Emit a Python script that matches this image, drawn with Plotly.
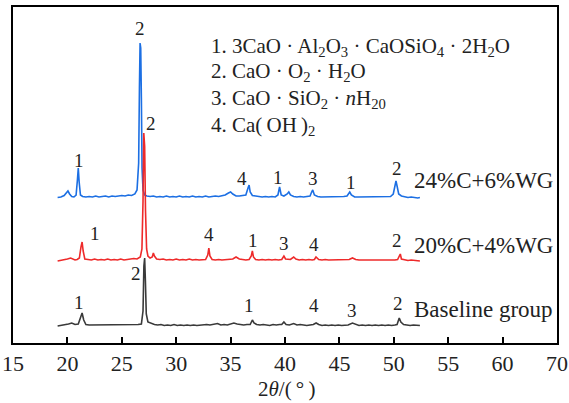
import plotly.graph_objects as go

# ---------------- data ----------------
tick_vals = [15, 20, 25, 30, 35, 40, 45, 50, 55, 60, 65]
tick_text = ["15", "20", "25", "30", "35", "40", "45", "50", "55", "60", "70"]

series_names = ["Baseline group", "24%C+6%WG", "20%C+4%WG"]
series_offsets = [17, 145, 82]

blue_x = [19.1, 19.4, 19.7, 19.9, 20.05, 20.2, 20.4, 20.6, 20.8, 20.92,
          21.0, 21.08, 21.2, 21.4, 21.7, 22.0, 22.3, 22.6, 22.9, 23.2,
          23.5, 23.8, 24.1, 24.4, 24.7, 25.0, 25.3, 25.6, 25.9, 26.2,
          26.4, 26.55, 26.62, 26.68, 26.74, 26.8, 26.86, 26.95, 27.1, 27.3,
          27.6, 27.9, 28.2, 28.5, 28.8, 29.1, 29.4, 29.7, 30.0, 30.3,
          30.6, 30.9, 31.2, 31.5, 31.8, 32.1, 32.4, 32.7, 33.0, 33.3,
          33.6, 33.9, 34.2, 34.5, 34.8, 35.0, 35.2, 35.5, 35.8, 36.1,
          36.4, 36.6, 36.7, 36.8, 37.0, 37.3, 37.6, 37.9, 38.2, 38.5,
          38.8, 39.1, 39.35, 39.5, 39.65, 39.9, 40.2, 40.35, 40.5, 40.8,
          41.1, 41.4, 41.7, 42.0, 42.3, 42.45, 42.55, 42.7, 43.0, 43.3,
          43.6, 43.9, 44.2, 44.5, 44.8, 45.1, 45.4, 45.7, 45.85, 45.95,
          46.1, 46.4, 46.7, 47.0, 47.3, 47.6, 47.9, 48.2, 48.5, 48.8,
          49.1, 49.4, 49.7, 49.95, 50.1, 50.2, 50.3, 50.45, 50.7, 51.0,
          51.3, 51.6, 51.9, 52.2, 52.4]
blue_y = [0.5, 1, 2.5, 5, 7, 4, 1.5, 1, 3, 18,
          30, 16, 3, 1.5, 1, 1.5, 1, 2, 1, 1.5,
          2, 1, 2, 1.5, 2, 2.5, 2, 3, 2.5, 4,
          8, 35, 110, 155, 150, 100, 30, 8, 3, 2,
          1.5, 2, 1, 1.5, 1, 2, 1, 1.5, 1, 2,
          1, 1.5, 1, 2, 1, 1.5, 1, 2, 1, 1.5,
          2, 1.5, 2, 3, 5, 6, 4, 2, 2, 2.5,
          3, 10, 13, 6, 2.5, 2, 1.5, 1, 1.5, 1,
          1.5, 1, 3, 11, 3, 2, 4, 6, 3, 1.5,
          1, 1.5, 1, 1.5, 2, 6, 8, 3, 1.5, 1,
          1, 1, 1, 1.5, 1, 1, 1.5, 2, 5, 6,
          3, 1, 1, 1, 1, 1, 1, 1, 1, 1,
          1.5, 1, 1.5, 4, 12, 17, 12, 4, 2, 1.5,
          0.5, 1, 0.5, 0, 0.5]

red_x = [19.1, 19.4, 19.7, 20.0, 20.3, 20.5, 20.7, 20.9, 21.1, 21.25,
         21.35, 21.45, 21.6, 21.9, 22.2, 22.5, 22.8, 23.1, 23.4, 23.7,
         24.0, 24.3, 24.6, 24.9, 25.2, 25.5, 25.8, 26.1, 26.4, 26.7,
         26.85, 26.95, 27.02, 27.1, 27.18, 27.28, 27.4, 27.6, 27.8, 27.9,
         28.0, 28.2, 28.5, 28.8, 29.1, 29.4, 29.7, 30.0, 30.3, 30.6,
         30.9, 31.2, 31.5, 31.8, 32.1, 32.4, 32.7, 32.9, 33.0, 33.1,
         33.3, 33.6, 33.9, 34.2, 34.5, 34.8, 35.2, 35.5, 35.8, 36.1,
         36.4, 36.7, 36.9, 37.0, 37.1, 37.3, 37.6, 37.9, 38.2, 38.5,
         38.8, 39.1, 39.4, 39.7, 39.9, 40.05, 40.3, 40.5, 40.8, 41.0,
         41.3, 41.6, 41.9, 42.2, 42.5, 42.7, 42.85, 43.1, 43.4, 43.7,
         44.0, 44.3, 44.6, 44.9, 45.2, 45.5, 45.9, 46.2, 46.5, 46.8,
         47.1, 47.4, 47.7, 48.0, 48.3, 48.6, 48.9, 49.2, 49.5, 49.8,
         50.1, 50.35, 50.5, 50.6, 50.7, 51.0, 51.3, 51.6, 51.9, 52.2,
         52.4]
red_y = [0, 0.5, 1, 2, 3, 2, 1, 1.5, 3, 14,
         19, 10, 2, 1.5, 1, 2, 1, 1.5, 1, 2,
         1, 1.5, 1, 2, 1, 1.5, 2, 2.5, 2, 4,
         12, 60, 128, 115, 50, 12, 5, 3, 4, 8,
         5, 2, 1.5, 2, 1, 1.5, 1, 2, 1, 1.5,
         1, 2, 1, 1.5, 1, 1.5, 1.5, 6, 13, 5,
         1.5, 1, 1.5, 1, 1.5, 2, 2, 4, 2, 1.5,
         1, 1.5, 5, 10, 4, 1.5, 1, 1.5, 1, 1.5,
         1, 1.5, 1, 1.5, 5, 2, 1.5, 1.5, 4, 2,
         1, 1.5, 1, 1.5, 1, 1.5, 4, 1.5, 1, 1.5,
         1, 1, 1.5, 1, 1, 1.5, 1.5, 3, 1.5, 1,
         1, 0.5, 1, 0.5, 1, 0.5, 1, 0.5, 1, 0.5,
         1, 1.5, 5, 7, 2, 1, 0.5, 1, 0.5, 0.5,
         0]

black_x = [19.1, 19.5, 19.8, 20.1, 20.4, 20.7, 21.0, 21.2, 21.35, 21.5,
           21.7, 22.0, 22.5, 23.0, 23.5, 24.0, 24.5, 25.0, 25.5, 26.0,
           26.5, 26.8, 26.95, 27.03, 27.1, 27.17, 27.25, 27.4, 27.7, 28.0,
           28.3, 28.6, 28.9, 29.2, 29.5, 29.8, 30.1, 30.4, 30.7, 31.0,
           31.3, 31.6, 31.9, 32.2, 32.5, 32.8, 33.1, 33.4, 33.8, 34.1,
           34.4, 34.7, 35.0, 35.3, 35.6, 35.9, 36.2, 36.5, 36.8, 37.0,
           37.15, 37.4, 37.7, 38.0, 38.3, 38.6, 38.9, 39.2, 39.5, 39.7,
           39.9, 40.1, 40.4, 40.8, 41.1, 41.4, 41.7, 42.0, 42.3, 42.6,
           42.86, 43.1, 43.4, 43.7, 44.0, 44.3, 44.6, 44.9, 45.2, 45.5,
           45.8, 46.2, 46.5, 46.8, 47.1, 47.4, 47.7, 48.0, 48.3, 48.6,
           48.9, 49.2, 49.5, 49.8, 50.1, 50.3, 50.5, 50.65, 50.9, 51.2,
           51.5, 51.8, 52.1, 52.4]
black_y = [0, 0.5, 1, 2, 3, 1.5, 2, 8, 13, 6,
           1.5, 1, 1, 1, 1, 1, 1, 1, 1, 1,
           1.5, 2, 15, 60, 68, 45, 12, 4, 2.5, 1.5,
           1, 1.5, 0.5, 1, 0.5, 1.5, 0.5, 1, 0.5, 1,
           0.5, 1, 0.5, 1, 1, 1.5, 1, 1.5, 2.5, 1,
           1.5, 1, 2, 3, 2, 1.5, 1, 1.5, 1.5, 6,
           3, 1.5, 1, 1.5, 1, 0.5, 1.5, 1, 1.5, 1.5,
           4, 1.5, 1, 2.5, 1, 1.5, 1, 0.5, 1, 1.5,
           3, 1.5, 0.5, 1, 0.5, 1, 0.5, 1, 0.5, 1,
           1, 3, 1.5, 0.5, 1, 0.5, 1, 0.5, 1, 0.5,
           1, 0.5, 1, 0.5, 1, 1.5, 8, 4, 1.5, 1,
           0.5, 1, 0.5, 0.5]

# peak labels (text, x in 2theta, y in plot units)
blue_labels = [("1", 21.06, 183), ("2", 26.65, 315), ("4", 36.07, 165),
               ("1", 39.4, 166), ("3", 42.6, 165), ("1", 46.07, 161), ("2", 50.32, 175)]
red_labels = [("1", 22.52, 110), ("2", 27.72, 220), ("4", 32.98, 109),
              ("1", 37.02, 103), ("3", 39.95, 100), ("4", 42.7, 99), ("2", 50.32, 103)]
black_labels = [("1", 21.06, 41), ("2", 26.35, 70), ("1", 36.65, 38),
                ("4", 42.7, 38), ("3", 46.19, 33), ("2", 50.41, 40)]

series_label_y = [34, 163, 98]

phase_lines = [
    "1. 3CaO · Al<sub>2</sub>O<sub>3</sub> · CaOSiO<sub>4</sub> · 2H<sub>2</sub>O",
    "2. CaO · O<sub>2</sub> · H<sub>2</sub>O",
    "3. CaO · SiO<sub>2</sub> · <i>n</i>H<sub>20</sub>",
    "4. Ca(\u2009OH\u2009)<sub>2</sub>",
]
phase_y = [296, 271, 244, 217]

# ---------------- figure ----------------
FONT = "Liberation Serif, Times New Roman, serif"
colors = ["#3a3a3a", "#1c6fe3", "#ee2a2a"]
xs = [black_x, blue_x, red_x]
ys = [black_y, blue_y, red_y]

fig = go.Figure()
for name, xv, yv, off, col in zip(series_names, xs, ys, series_offsets, colors):
    fig.add_trace(go.Scatter(x=xv, y=[v + off for v in yv], mode="lines",
                             line=dict(color=col, width=1.6), name=name,
                             showlegend=False))

ann = []
for labs in (blue_labels, red_labels, black_labels):
    for t, x, y in labs:
        ann.append(dict(x=x, y=y, xref="x", yref="y", text=t, showarrow=False,
                        xanchor="center", yanchor="middle",
                        font=dict(family=FONT, size=19, color="#222")))

for name, y in zip(series_names, series_label_y):
    ann.append(dict(x=51.7, y=y, xref="x", yref="y", text=name, showarrow=False,
                    xanchor="left", yanchor="middle",
                    font=dict(family=FONT, size=23, color="#222")))

for t, y in zip(phase_lines, phase_y):
    ann.append(dict(x=32.98, y=y, xref="x", yref="y", text=t, showarrow=False,
                    xanchor="left", yanchor="middle",
                    font=dict(family=FONT, size=21, color="#222")))

ann.append(dict(x=0.502, y=0, xref="paper", yref="paper", yshift=-46,
                text="2<i>θ</i>/(\u2009°\u2009)", showarrow=False, xanchor="center",
                yanchor="middle", font=dict(family=FONT, size=21, color="#222")))

fig.update_layout(
    width=569, height=403,
    margin=dict(l=13, r=12, t=7, b=60, autoexpand=False),
    paper_bgcolor="white", plot_bgcolor="white",
    annotations=ann,
    xaxis=dict(range=[15, 65], tickvals=tick_vals, ticktext=tick_text,
               ticks="inside", ticklen=6, tickwidth=1.5, tickcolor="black",
               showline=True, linecolor="black", linewidth=2, mirror=True,
               showgrid=False, zeroline=False, automargin=False,
               tickfont=dict(family=FONT, size=22, color="#222")),
    yaxis=dict(range=[0, 336], showticklabels=False, ticks="",
               showline=True, linecolor="black", linewidth=2, mirror=True,
               showgrid=False, zeroline=False, automargin=False),
)

fig.write_html("out.html", config={"displayModeBar": False},
               post_script="document.body.style.margin='0px';document.body.style.overflow='hidden';")
